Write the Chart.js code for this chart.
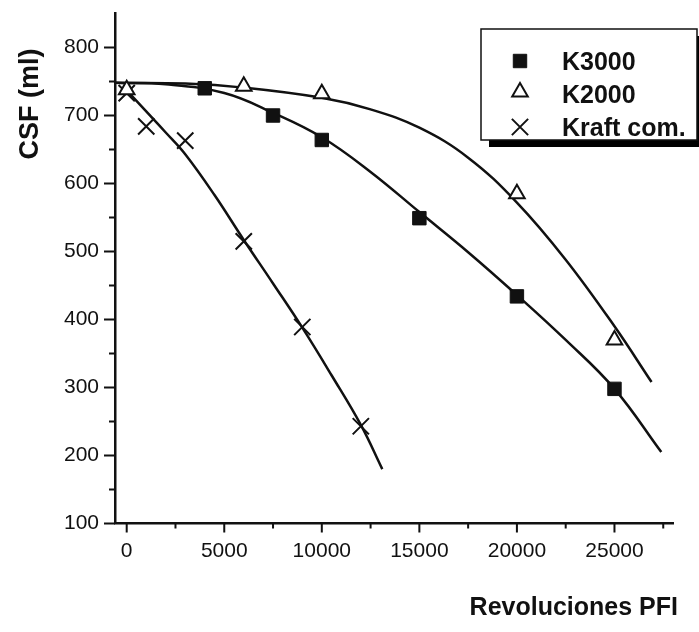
<!DOCTYPE html>
<html>
<head>
<meta charset="utf-8">
<script src="https://cdn.jsdelivr.net/npm/chart.js@4.4.0/dist/chart.umd.min.js"></script>
<style>
  html, body { margin: 0; padding: 0; background: #fff; }
  #main-chart { display: block; }
</style>
</head>
<body>
<canvas id="main-chart" width="699" height="632"></canvas>
<script>
//series names
const seriesNames = ['K3000', 'K2000', 'Kraft com.'];

//measured points (revolutions PFI, CSF ml)
const k3000Rev = [4000, 7500, 10000, 15000, 20000, 25000];
const k3000Csf = [740, 700, 664, 549, 434, 298];
const k2000Rev = [0, 6000, 10000, 20000, 25000];
const k2000Csf = [738, 743, 732, 585, 370];
const kraftRev = [0, 1000, 3000, 6000, 9000, 12000];
const kraftCsf = [733, 684, 663, 515, 389, 243];

//fitted curves
const k3000FitRev = [-600, 2000, 5000, 7500, 10000, 12500, 15000, 17500, 20000, 22500, 25000, 27400];
const k3000FitCsf = [748, 746, 733, 704, 668, 617, 558, 499, 436, 370, 298, 205];
const k2000FitRev = [-600, 3000, 6000, 10000, 12500, 15000, 17500, 20000, 22500, 25000, 26900];
const k2000FitCsf = [748, 747, 741, 726, 709, 682, 638, 572, 488, 390, 308];
const kraftFitRev = [0, 1000, 2000, 3000, 4500, 6000, 7500, 9000, 10500, 12000, 13100];
const kraftFitCsf = [737, 706, 675, 643, 583, 517, 453, 388, 318, 245, 180];

//axes
const xMin = -600, xMax = 28000;
const yMin = 100, yMax = 850;
const xMajorTicks = [0, 5000, 10000, 15000, 20000, 25000];
const xMinorTicks = [2500, 7500, 12500, 17500, 22500, 27500];
const yMajorTicks = [100, 200, 300, 400, 500, 600, 700, 800];
const yMinorTicks = [150, 250, 350, 450, 550, 650, 750];
const xTitle = 'Revoluciones PFI';
const yTitle = 'CSF (ml)';

const FONT = '"Liberation Sans", Arial, Helvetica, sans-serif';
const INK = '#111';

//zip two arrays into {x, y}
function toPoints(xs, ys) {
  return xs.map((x, i) => ({ x: x, y: ys[i] }));
}

//marker styles, shared by plot and legend
const markers = [
  { pointStyle: 'rect', radius: 9.5, borderWidth: 1, fill: INK },
  { pointStyle: 'triangle', radius: 9, borderWidth: 2, fill: '#fff' },
  { pointStyle: 'crossRot', radius: 11.5, borderWidth: 2, fill: INK }
];

function pointSet(label, xs, ys, m) {
  return {
    label: label,
    data: toPoints(xs, ys),
    showLine: false,
    pointStyle: m.pointStyle,
    pointRadius: m.radius,
    pointBorderWidth: m.borderWidth,
    pointBackgroundColor: m.fill,
    pointBorderColor: INK
  };
}

function fitSet(label, xs, ys) {
  return {
    label: label,
    data: toPoints(xs, ys),
    showLine: true,
    pointRadius: 0,
    borderColor: INK,
    borderWidth: 2.5,
    tension: 0.4
  };
}

//ticks, titles and legend box drawn on top of the chart
const decor = {
  id: 'decor',
  afterDraw(chart) {
    const ctx = chart.ctx;
    const xs = chart.scales.x, ys = chart.scales.y;
    const area = chart.chartArea;
    ctx.save();
    ctx.strokeStyle = INK;
    ctx.lineWidth = 2;
    ctx.beginPath();
    xMajorTicks.forEach(v => { const p = xs.getPixelForValue(v); ctx.moveTo(p, area.bottom); ctx.lineTo(p, area.bottom + 9); });
    xMinorTicks.forEach(v => { const p = xs.getPixelForValue(v); ctx.moveTo(p, area.bottom); ctx.lineTo(p, area.bottom + 5); });
    yMajorTicks.forEach(v => { const p = ys.getPixelForValue(v); ctx.moveTo(area.left - 11, p); ctx.lineTo(area.left, p); });
    yMinorTicks.forEach(v => { const p = ys.getPixelForValue(v); ctx.moveTo(area.left - 6, p); ctx.lineTo(area.left, p); });
    ctx.stroke();

    //axis titles
    ctx.fillStyle = INK;
    ctx.font = 'bold 25px ' + FONT;
    ctx.textBaseline = 'middle';
    ctx.textAlign = 'right';
    ctx.fillText(xTitle, 678, 608);
    ctx.save();
    ctx.translate(31, 104);
    ctx.rotate(-Math.PI / 2);
    ctx.font = 'bold 27px ' + FONT;
    ctx.textAlign = 'center';
    ctx.fillText(yTitle, 0, 0);
    ctx.restore();

    //legend box with shadow
    ctx.fillStyle = '#000';
    ctx.fillRect(489, 36, 216, 111);
    ctx.fillStyle = '#fff';
    ctx.fillRect(481, 29, 216, 111);
    ctx.lineWidth = 1.5;
    ctx.strokeStyle = INK;
    ctx.strokeRect(481, 29, 216, 111);

    const rowMarkY = [61, 92, 127];
    const rowTextY = [70, 103, 136];
    seriesNames.forEach((name, i) => {
      const m = markers[i];
      ctx.fillStyle = m.fill;
      ctx.strokeStyle = INK;
      ctx.lineWidth = m.borderWidth;
      Chart.helpers.drawPoint(ctx, { pointStyle: m.pointStyle, radius: m.radius, rotation: 0, borderWidth: m.borderWidth }, 520, rowMarkY[i]);
      ctx.fillStyle = INK;
      ctx.font = 'bold 25px ' + FONT;
      ctx.textAlign = 'left';
      ctx.textBaseline = 'alphabetic';
      ctx.fillText(name, 562, rowTextY[i]);
    });
    ctx.restore();
  }
};

const chart_elem = document.getElementById('main-chart');
const main_chart = new Chart(chart_elem, {
  type: 'scatter',
  data: {
    datasets: [
      pointSet(seriesNames[0], k3000Rev, k3000Csf, markers[0]),
      pointSet(seriesNames[1], k2000Rev, k2000Csf, markers[1]),
      pointSet(seriesNames[2], kraftRev, kraftCsf, markers[2]),
      fitSet(seriesNames[0] + ' fit', k3000FitRev, k3000FitCsf),
      fitSet(seriesNames[1] + ' fit', k2000FitRev, k2000FitCsf),
      fitSet(seriesNames[2] + ' fit', kraftFitRev, kraftFitCsf)
    ]
  },
  options: {
    responsive: false,
    animation: false,
    devicePixelRatio: 1,
    layout: { padding: { top: 13, right: 26, left: 0, bottom: 0 } },
    plugins: {
      legend: { display: false },
      tooltip: { enabled: false }
    },
    scales: {
      x: {
        type: 'linear',
        min: xMin,
        max: xMax,
        afterBuildTicks: axis => { axis.ticks = xMajorTicks.map(v => ({ value: v })); },
        afterFit: axis => { axis.height = 108.5; axis.paddingLeft = 0; axis.paddingRight = 0; },
        grid: { display: false, tickLength: 9 },
        border: { display: true, color: INK, width: 2.5 },
        ticks: {
          padding: 6,
          autoSkip: false,
          maxRotation: 0,
          color: INK,
          font: { family: FONT, size: 21 },
          callback: v => String(v)
        }
      },
      y: {
        type: 'linear',
        min: yMin,
        max: yMax,
        afterBuildTicks: axis => { axis.ticks = yMajorTicks.map(v => ({ value: v })); },
        afterFit: axis => { axis.width = 115; axis.paddingTop = 0; axis.paddingBottom = 0; },
        grid: { display: false, tickLength: 11 },
        border: { display: true, color: INK, width: 2.5 },
        ticks: {
          padding: 5,
          color: INK,
          font: { family: FONT, size: 21 },
          callback: v => String(v)
        }
      }
    }
  },
  plugins: [decor]
});
</script>
</body>
</html>
